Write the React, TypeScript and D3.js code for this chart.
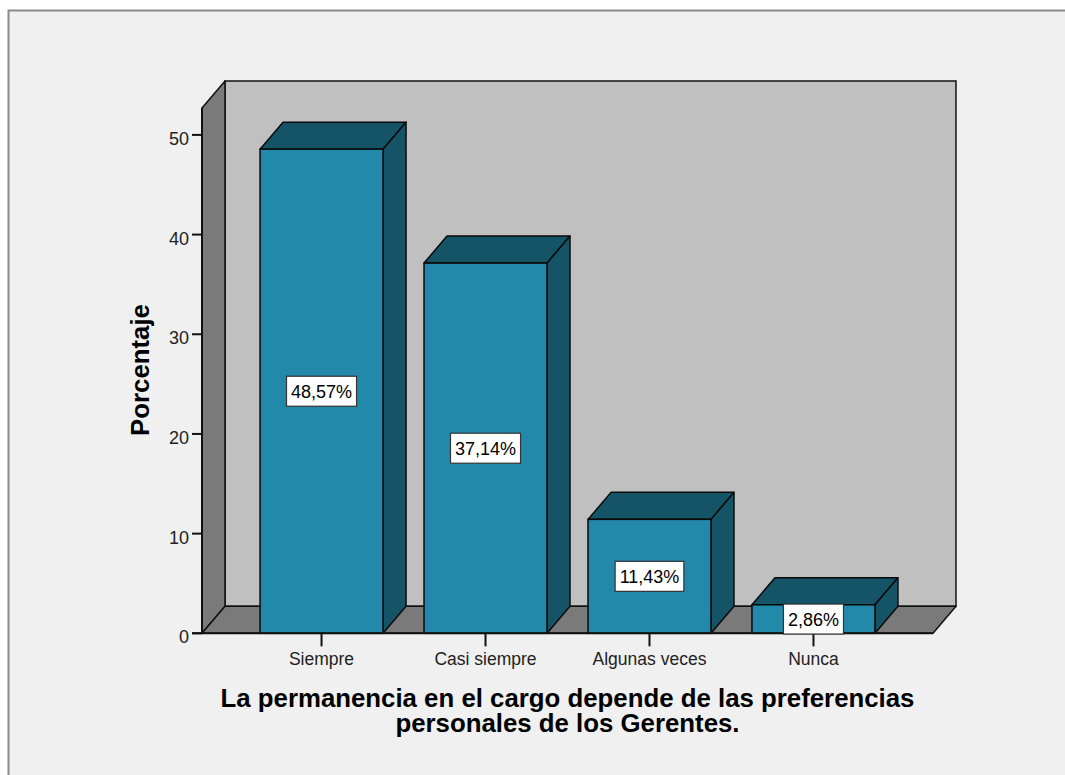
import { useMemo } from "react";
import * as d3 from "d3";

const WIDTH = 1065;
const HEIGHT = 775;

const categories = ["Siempre", "Casi siempre", "Algunas veces", "Nunca"];
const percentages = [48.57, 37.14, 11.43, 2.86];
const yTicks = [0, 10, 20, 30, 40, 50];
const titleLines = [
  "La permanencia en el cargo depende de las preferencias",
  "personales de los Gerentes.",
];
const yTitle = "Porcentaje";

// chart box (front plane) and 3D depth offset
const X0 = 202;
const X1 = 933;
const Y_BASE = 633.3;
const Y_TOP = 108;
const DX = 23;
const DY = -27;

const FONT = "'Liberation Sans', Arial, sans-serif";
const FRONT = "#2389ab";
const DARK = "#155366";
const WALL = "#7a7a7a";
const BACK = "#c0c0c0";

const locale = d3.formatLocale({
  decimal: ",",
  thousands: ".",
  grouping: [3],
  currency: ["", ""],
});
const fmt = locale.format(".2f");

function textWidth(text: string, font: string) {
  const ctx = document.createElement("canvas").getContext("2d");
  if (!ctx) return text.length * 10;
  ctx.font = font;
  return ctx.measureText(text).width;
}

function App() {
  const x = useMemo(
    () =>
      d3
        .scaleBand<string>()
        .domain(categories)
        .range([X0, X1])
        .paddingInner(0.25)
        .paddingOuter(0.354),
    []
  );
  const y = useMemo(
    () => d3.scaleLinear().domain([0, 52.7]).range([Y_BASE, Y_TOP]),
    []
  );

  const bw = x.bandwidth();
  const pts = (p: [number, number][]) => p.map((d) => d.join(",")).join(" ");

  return (
    <svg
      width={WIDTH}
      height={HEIGHT}
      style={{ position: "absolute", left: 0, top: 0, background: "#fff" }}
    >
      <rect
        x={8.5}
        y={10.5}
        width={1100}
        height={800}
        fill="#f0f0f0"
        stroke="#8a8a8a"
        strokeWidth={2}
      />

      {/* back wall */}
      <rect
        x={X0 + DX}
        y={Y_TOP + DY}
        width={X1 - X0}
        height={Y_BASE - Y_TOP}
        fill={BACK}
        stroke="#111"
        strokeWidth={1.5}
      />
      {/* left wall */}
      <polygon
        points={pts([
          [X0, Y_TOP],
          [X0 + DX, Y_TOP + DY],
          [X0 + DX, Y_BASE + DY],
          [X0, Y_BASE],
        ])}
        fill={WALL}
        stroke="#111"
        strokeWidth={1.5}
        strokeLinejoin="round"
      />
      {/* floor */}
      <polygon
        points={pts([
          [X0, Y_BASE],
          [X1, Y_BASE],
          [X1 + DX, Y_BASE + DY],
          [X0 + DX, Y_BASE + DY],
        ])}
        fill={WALL}
        stroke="#111"
        strokeWidth={1.5}
        strokeLinejoin="round"
      />

      {/* y axis */}
      <line x1={X0} x2={X0} y1={Y_TOP} y2={Y_BASE} stroke="#111" strokeWidth={2} />
      {yTicks.map((t) => (
        <g key={t}>
          <line x1={X0 - 10} x2={X0} y1={y(t)} y2={y(t)} stroke="#111" strokeWidth={2} />
          <text
            x={189}
            y={y(t) + 10}
            textAnchor="end"
            fontFamily={FONT}
            fontSize={18}
            fill="#222"
          >
            {t}
          </text>
        </g>
      ))}

      {/* bars */}
      {categories.map((c, i) => {
        const x0 = x(c) ?? 0;
        const yT = y(percentages[i]);
        return (
          <g key={c}>
            <polygon
              points={pts([
                [x0, yT],
                [x0 + DX, yT + DY],
                [x0 + bw + DX, yT + DY],
                [x0 + bw, yT],
              ])}
              fill={DARK}
              stroke="#0a0a0a"
              strokeWidth={1.5}
              strokeLinejoin="round"
            />
            <polygon
              points={pts([
                [x0 + bw, yT],
                [x0 + bw + DX, yT + DY],
                [x0 + bw + DX, Y_BASE + DY],
                [x0 + bw, Y_BASE],
              ])}
              fill={DARK}
              stroke="#0a0a0a"
              strokeWidth={1.5}
              strokeLinejoin="round"
            />
            <rect
              x={x0}
              y={yT}
              width={bw}
              height={Y_BASE - yT}
              fill={FRONT}
              stroke="#0a0a0a"
              strokeWidth={1.5}
            />
          </g>
        );
      })}

      {/* x axis ticks and labels */}
      <line x1={X0 - 10} x2={X1} y1={Y_BASE} y2={Y_BASE} stroke="#111" strokeWidth={2} />
      {categories.map((c) => {
        const cx = (x(c) ?? 0) + bw / 2;
        return (
          <g key={c}>
            <line x1={cx} x2={cx} y1={Y_BASE} y2={Y_BASE + 13} stroke="#111" strokeWidth={2} />
            <text
              x={cx}
              y={665}
              textAnchor="middle"
              fontFamily={FONT}
              fontSize={17.5}
              fill="#222"
            >
              {c}
            </text>
          </g>
        );
      })}

      {/* value labels */}
      {categories.map((c, i) => {
        const cx = (x(c) ?? 0) + bw / 2;
        const cy = y(percentages[i] / 2);
        const label = fmt(percentages[i]) + "%";
        const w = textWidth(label, `18px ${FONT}`) + 9;
        return (
          <g key={c}>
            <rect
              x={cx - w / 2}
              y={cy - 15}
              width={w}
              height={30}
              fill="#fff"
              stroke="#333"
              strokeWidth={1.2}
            />
            <text
              x={cx}
              y={cy + 6.5}
              textAnchor="middle"
              fontFamily={FONT}
              fontSize={18}
              fill="#000"
            >
              {label}
            </text>
          </g>
        );
      })}

      {/* axis titles */}
      <text
        transform={`translate(149,370) rotate(-90)`}
        textAnchor="middle"
        fontFamily={FONT}
        fontWeight="bold"
        fontSize={25.8}
        fill="#000"
      >
        {yTitle}
      </text>
      {titleLines.map((line, i) => (
        <text
          key={i}
          x={(X0 + X1) / 2}
          y={706.5 + i * 25.5}
          textAnchor="middle"
          fontFamily={FONT}
          fontWeight="bold"
          fontSize={25.8}
          fill="#000"
        >
          {line}
        </text>
      ))}
    </svg>
  );
}

export default App;
